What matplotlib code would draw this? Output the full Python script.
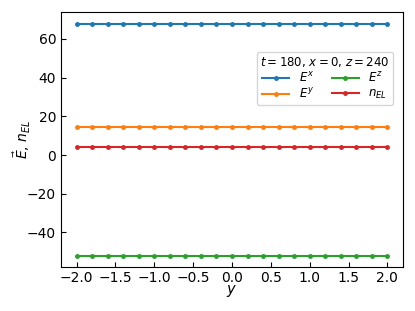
import numpy as np
import matplotlib
matplotlib.use("Agg")
import matplotlib.pyplot as plt

y_vals = [-2.0, -1.8, -1.6, -1.4, -1.2, -1.0, -0.8, -0.6, -0.4, -0.2, 0.0,
          0.2, 0.4, 0.6, 0.8, 1.0, 1.2, 1.4, 1.6, 1.8, 2.0]
Ex = [67.9] * 21
Ey = [14.5] * 21
Ez = [-52.0] * 21
nEL = [4.1] * 21

fig, ax = plt.subplots(figsize=(4.15, 3.11), dpi=100)
ax.plot(y_vals, Ex, marker='.', markersize=5, color='C0', label=r'$E^x$')
ax.plot(y_vals, Ey, marker='.', markersize=5, color='C1', label=r'$E^y$')
ax.plot(y_vals, Ez, marker='.', markersize=5, color='C2', label=r'$E^z$')
ax.plot(y_vals, nEL, marker='.', markersize=5, color='C3', label=r'$n_{EL}$')

ax.tick_params(direction='in')
ax.tick_params(axis='x', pad=2.5)
ax.set_xlabel(r'$y$', fontsize=10.5, labelpad=-1)
ax.set_ylabel(r'$\vec{E}$, $n_{EL}$', fontsize=10, labelpad=-4)
ax.set_xticks(np.arange(-2.0, 2.01, 0.5))
ax.legend(title=r'$t=180$, $x=0$, $z=240$', ncol=2, loc='upper right',
          bbox_to_anchor=(0.971, 0.844), borderaxespad=0,
          fontsize=8.5, title_fontsize=8.5, handlelength=2.3,
          columnspacing=1.5, labelspacing=0.15, borderpad=0.3)

fig.subplots_adjust(left=0.147, right=0.971, top=0.961, bottom=0.141)
fig.savefig('out.png', dpi=100)
